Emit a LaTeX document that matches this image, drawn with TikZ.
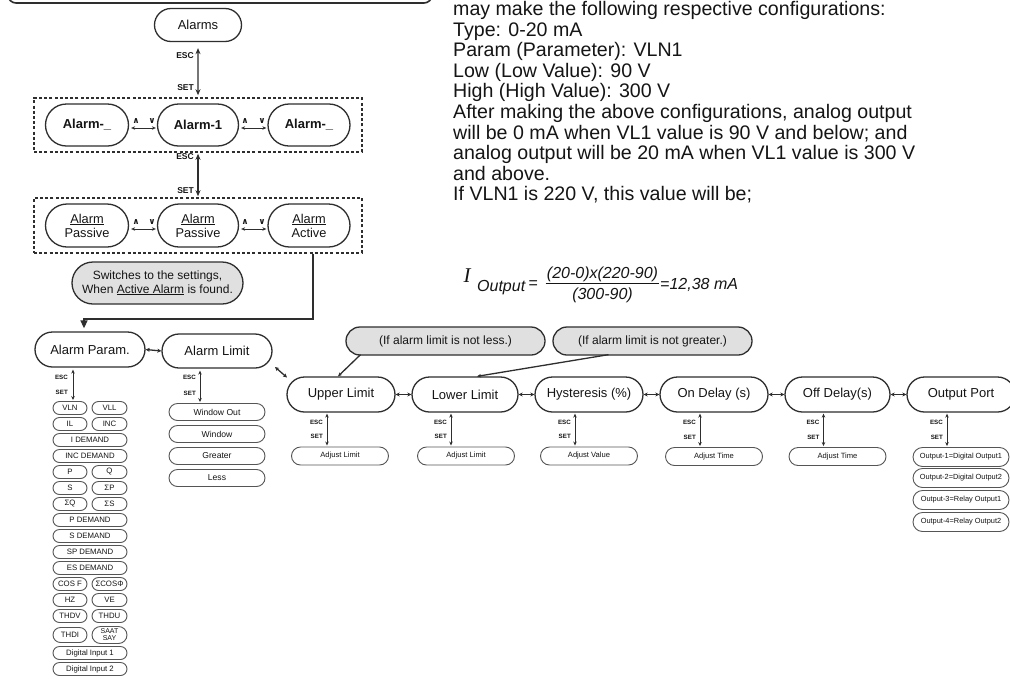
\documentclass[tikz,border=0pt]{standalone}
\usepackage{fontspec}
\setmainfont{Liberation Sans}
\newfontfamily\serifI{Liberation Serif}
\newfontfamily\djv{DejaVu Sans}
\usetikzlibrary{arrows.meta,calc,shapes.misc}
\definecolor{linec}{HTML}{2E2E2E}
\definecolor{itemline}{HTML}{555555}
\definecolor{notefill}{HTML}{E0E0E0}
\definecolor{txt}{HTML}{151515}
\begin{document}
\begin{tikzpicture}[x=1pt,y=-1pt,
  every node/.style={text=txt},
  pill/.style={rounded rectangle, rounded rectangle arc length=180, draw=linec, line width=1.3pt, fill=white, inner sep=0pt, align=center, font=\fontsize{13}{14}\selectfont},
  pillb/.style={pill, font=\fontsize{13}{14}\selectfont\bfseries},
  pilltwo/.style={pill, font=\fontsize{12.8}{14}\selectfont},
  notebox/.style={pill, fill=notefill, font=\fontsize{12}{13.5}\selectfont},
  dashbox/.style={rectangle, draw=linec, line width=1.6pt, dash pattern=on 3pt off 2.2pt, inner sep=0pt},
  itembox/.style={rounded rectangle, rounded rectangle arc length=180, draw=itemline, line width=0.9pt, fill=white, inner sep=0pt, minimum height=13pt, align=center, font=\fontsize{7.8}{8}\selectfont},
  litem/.style={itembox, minimum width=96pt, minimum height=17pt, font=\fontsize{8.6}{9}\selectfont},
  aitem/.style={itembox, minimum width=97pt, minimum height=18pt, font=\fontsize{7.6}{8}\selectfont},
  oitem/.style={itembox, minimum width=96pt, minimum height=19pt, font=\fontsize{7.4}{8}\selectfont},
  keybig/.style={font=\fontsize{8.5}{9}\selectfont\bfseries, inner sep=0pt, anchor=east},
  keysmall/.style={font=\fontsize{6.2}{7}\selectfont\bfseries, inner sep=0pt, anchor=east},
  updownbig/.style={draw=linec, line width=1.4pt, {Stealth[length=6pt,width=5pt]}-{Stealth[length=6pt,width=5pt]}},
  updownsmall/.style={draw=linec, line width=0.9pt, {Stealth[length=4pt,width=3.5pt]}-{Stealth[length=4pt,width=3.5pt]}},
  lrarrow/.style={draw=linec, line width=0.9pt, {Stealth[length=4pt,width=3.5pt]}-{Stealth[length=4pt,width=3.5pt]}},
  chainc/.style={draw=linec, line width=1.3pt, {Stealth[length=4pt,width=4pt]}-{Stealth[length=4pt,width=4pt]}},
  notec/.style={draw=linec, line width=1.3pt, -{Stealth[length=4pt,width=3.5pt]}},
  updn/.style={font=\djv\fontsize{8.5}{8.5}\selectfont\bfseries, inner sep=0pt},
  fml/.style={font=\fontsize{16}{18}\selectfont\itshape, inner sep=0pt},
]
\path[use as bounding box] (0,0) rectangle (1010,678);
\clip (0,0) rectangle (1010,678);
\fill[white] (0,0) rectangle (1010,678);

% partial frame at the top left
\draw[linec, line width=1.6pt, rounded corners=8pt] (8,-40) rectangle (432,3);

% text block
\node[anchor=north west, inner sep=0pt, align=left, font=\fontsize{19.6}{20.6}\selectfont] (para) at (453,1)
 {may make the following respective configurations:\\
  Type: 0-20 mA\\
  Param (Parameter): VLN1\\
  Low (Low Value): 90 V\\
  High (High Value): 300 V\\
  After making the above configurations, analog output\\
  will be 0 mA when VL1 value is 90 V and below; and\\
  analog output will be 20 mA when VL1 value is 300 V\\
  and above.\\
  If VLN1 is 220 V, this value will be;};

% formula
\node[font=\serifI\itshape\fontsize{21}{21}\selectfont, inner sep=0pt, anchor=base] (fI) at (467,282) {I};
\node[fml, anchor=base west] (fsub) at (477,291) {Output};
\node[fml, anchor=base] (feq) at (533,288) {=};
\node[fml, anchor=base] (fnum) at (602.5,278) {(20-0)x(220-90)};
\node[fml, anchor=base] (fden) at (602.5,299.5) {(300-90)};
\draw[txt, line width=1.1pt] ($(fnum.south west)+(-1,2)$) -- ($(fnum.south east)+(1,2)$);
\node[fml, anchor=base west] (fres) at (660,289) {=12,38 mA};

% Alarms
\node[pill, minimum width=87pt, minimum height=33pt] (alarms) at (198,25) {Alarms};
\node[dashbox, minimum width=328pt, minimum height=54pt] (box1) at (198,125) {};
\node[pillb, minimum width=83pt, minimum height=42pt] (a1l) at (87,125) {Alarm-\_};
\node[pillb, minimum width=81pt, minimum height=42pt] (a1m) at (198,125) {Alarm-1};
\node[pillb, minimum width=82pt, minimum height=42pt] (a1r) at (309,125) {Alarm-\_};

\draw[updownbig, shorten <=6pt, shorten >=2pt] (alarms) -- (box1);
\node[keybig] (esc1) at (194,56) {ESC};
\node[keybig] (set1) at (194,88) {SET};

\draw[lrarrow, shorten <=2pt, shorten >=1pt] ([yshift=-3pt]a1l.east) -- ([yshift=-3pt]a1m.west);
\draw[lrarrow, shorten <=2pt, shorten >=1pt] ([yshift=-3pt]a1m.east) -- ([yshift=-3pt]a1r.west);
\node[updn] (up1) at (136,121) {∧};
\node[updn] (dn1) at (152,121) {∨};
\node[updn] (up2) at (245,121) {∧};
\node[updn] (dn2) at (262,121) {∨};

\node[dashbox, minimum width=328pt, minimum height=55pt] (box2) at (198,225.5) {};
\node[pilltwo, minimum width=83pt, minimum height=43pt] (a2l) at (87,225.5) {\underline{Alarm}\\Passive};
\node[pilltwo, minimum width=81pt, minimum height=43pt] (a2m) at (198,225.5) {\underline{Alarm}\\Passive};
\node[pilltwo, minimum width=82pt, minimum height=43pt] (a2r) at (309,225.5) {\underline{Alarm}\\Active};

\draw[updownbig, shorten <=1pt, shorten >=1pt] (box1) -- (box2);
\node[keybig] (esc2) at (194,157) {ESC};
\node[keybig] (set2) at (194,191) {SET};

\draw[lrarrow, shorten <=2pt, shorten >=1pt] ([yshift=-3.5pt]a2l.east) -- ([yshift=-3.5pt]a2m.west);
\draw[lrarrow, shorten <=2pt, shorten >=1pt] ([yshift=-3.5pt]a2m.east) -- ([yshift=-3.5pt]a2r.west);
\node[updn] (up3) at (136,222) {∧};
\node[updn] (dn3) at (152,222) {∨};
\node[updn] (up4) at (245,222) {∧};
\node[updn] (dn4) at (262,222) {∨};

\node[notebox, minimum width=171pt, minimum height=42pt] (sw) at (157.5,283)
 {Switches to the settings,\\When \underline{Active Alarm} is found.};

% Alarm Param / Alarm Limit
\node[pill, minimum width=110pt, minimum height=35pt] (aparam) at (90,349.5) {Alarm Param.};
\node[pill, minimum width=110pt, minimum height=34pt] (alimit) at (217,351) {Alarm Limit};

\coordinate (c1) at (313,319);
\coordinate (c2) at (84,319);
\draw[linec, line width=1.6pt, -{Triangle[length=8pt,width=7pt]}, shorten >=3pt] (box2.south -| c1) -- (c1) -- (c2) -- (c2 |- aparam.north);

\draw[chainc] (aparam.east) -- (alimit.west);

% parameter list
\node[itembox, minimum width=34pt] (vln) at (70,408) {VLN};
\node[itembox, minimum width=35pt] (vll) at (109.5,408) {VLL};
\node[itembox, minimum width=34pt] (il) at (70,424) {IL};
\node[itembox, minimum width=35pt] (inc) at (109.5,424) {INC};
\node[itembox, minimum width=74pt] (idem) at (90,440) {I DEMAND};
\node[itembox, minimum width=74pt] (incdem) at (90,456) {INC DEMAND};
\node[itembox, minimum width=34pt] (pp) at (70,472) {P};
\node[itembox, minimum width=35pt] (qq) at (109.5,472) {Q};
\node[itembox, minimum width=34pt] (ss) at (70,488) {S};
\node[itembox, minimum width=35pt] (sp) at (109.5,488) {ΣP};
\node[itembox, minimum width=34pt] (sq) at (70,504) {ΣQ};
\node[itembox, minimum width=35pt] (sss) at (109.5,504) {ΣS};
\node[itembox, minimum width=74pt] (pdem) at (90,520) {P DEMAND};
\node[itembox, minimum width=74pt] (sdem) at (90,536) {S DEMAND};
\node[itembox, minimum width=74pt] (spdem) at (90,552) {SP DEMAND};
\node[itembox, minimum width=74pt] (esdem) at (90,568) {ES DEMAND};
\node[itembox, minimum width=34pt] (cosf) at (70,584) {COS F};
\node[itembox, minimum width=35pt] (scos) at (109.5,584) {ΣCOSΦ};
\node[itembox, minimum width=34pt] (hz) at (70,600) {HZ};
\node[itembox, minimum width=35pt] (ve) at (109.5,600) {VE};
\node[itembox, minimum width=34pt] (thdv) at (70,616) {THDV};
\node[itembox, minimum width=35pt] (thdu) at (109.5,616) {THDU};
\node[itembox, minimum width=34pt, minimum height=15pt] (thdi) at (70,635) {THDI};
\node[itembox, minimum width=35pt, minimum height=17pt, font=\fontsize{7}{7}\selectfont] (saat) at (109.5,635) {SAAT\\SAY};
\node[itembox, minimum width=74pt] (din1) at (90,653) {Digital Input 1};
\node[itembox, minimum width=74pt] (din2) at (90,669) {Digital Input 2};

\draw[updownsmall] ($(aparam.south)+(-17,2)$) -- ($(aparam.south |- vln.north)+(-17,-1)$);
\node[keysmall] (esc3) at (68,377) {ESC};
\node[keysmall] (set3) at (68,392) {SET};

% limit list
\node[litem] (wout) at (217,412) {Window Out};
\node[litem] (win) at (217,434) {Window};
\node[litem] (grt) at (217,456) {Greater};
\node[litem] (lss) at (217,478) {Less};
\draw[updownsmall] ($(alimit.south)+(-17,2)$) -- ($(alimit.south |- wout.north)+(-17,-1)$);
\node[keysmall] (esc4) at (196,377) {ESC};
\node[keysmall] (set4) at (196,393) {SET};

% limits chain
\node[pill, minimum width=108pt, minimum height=35pt] (upper) at (341,394.5) {Upper Limit};
\node[pill, minimum width=106pt, minimum height=35pt] (lower) at (465,394.5) {Lower Limit};
\node[pill, minimum width=108pt, minimum height=35pt] (hyst) at (589,394.5) {Hysteresis (\%)};
\node[pill, minimum width=108pt, minimum height=35pt] (ond) at (714,394.5) {On Delay (s)};
\node[pill, minimum width=105pt, minimum height=35pt] (offd) at (837.5,394.5) {Off Delay(s)};
\node[pill, minimum width=108pt, minimum height=35pt] (oport) at (961,394.5) {Output Port};

\draw[chainc] ($(alimit.center)+(58,16)$) -- ($(upper.center)+(-54,-17)$);
\draw[chainc] (upper.east) -- (lower.west);
\draw[chainc] (lower.east) -- (hyst.west);
\draw[chainc] (hyst.east) -- (ond.west);
\draw[chainc] (ond.east) -- (offd.west);
\draw[chainc] (offd.east) -- (oport.west);

\node[notebox, minimum width=199pt, minimum height=28pt] (note1) at (445.5,341) {(If alarm limit is not less.)};
\node[notebox, minimum width=199pt, minimum height=28pt] (note2) at (652.5,341) {(If alarm limit is not greater.)};
\draw[notec] ($(note1.south)+(-85,-1)$) -- ($(upper.north)+(-3,0)$);
\draw[notec] ($(note2.south)+(-44,-1)$) -- ($(lower.north)+(12,0)$);

\node[aitem] (adj1) at (340,456) {Adjust Limit};
\node[aitem] (adj2) at (466,456) {Adjust Limit};
\node[aitem] (adj3) at (589,456) {Adjust Value};
\node[aitem] (adj4) at (714,456.5) {Adjust Time};
\node[aitem] (adj5) at (837.5,456.5) {Adjust Time};
\node[oitem] (out1) at (961,457) {Output-1=Digital Output1};
\node[oitem] (out2) at (961,478) {Output-2=Digital Output2};
\node[oitem] (out3) at (961,500) {Output-3=Relay Output1};
\node[oitem] (out4) at (961,522) {Output-4=Relay Output2};

\foreach \n/\b in {upper/adj1, lower/adj2, hyst/adj3, ond/adj4, offd/adj5, oport/out1} {
  \draw[updownsmall] ($(\n.south)+(-14,1)$) -- ($(\n.south |- \b.north)+(-14,-1)$);
  \node[keysmall] (\n-esc) at ($(\n.south)+(-18,10)$) {ESC};
  \node[keysmall] (\n-set) at ($(\n.south |- \b.north)+(-18,-10)$) {SET};
}
\end{tikzpicture}
\end{document}
